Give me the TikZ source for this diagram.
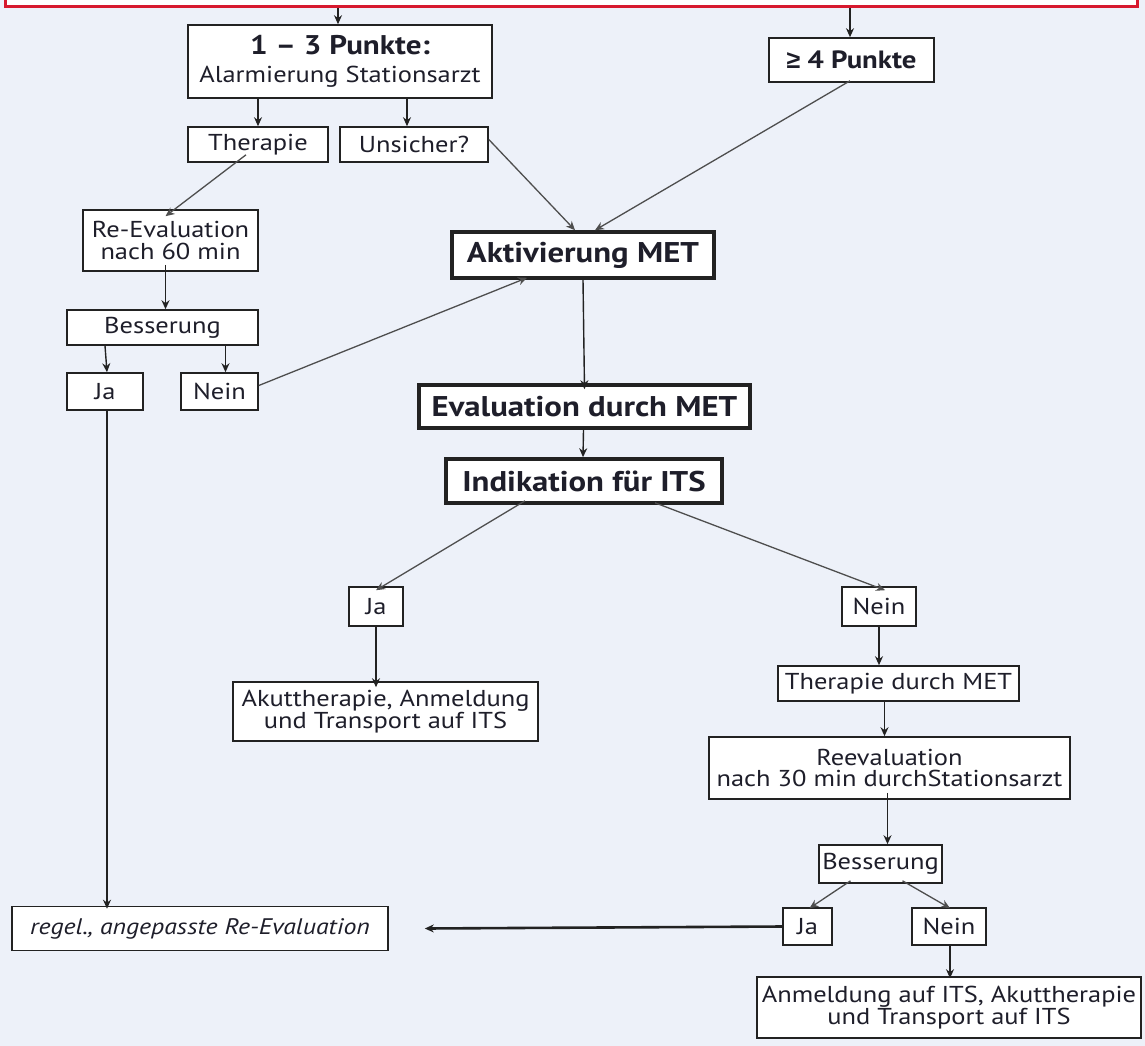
\documentclass[tikz,border=0pt]{standalone}
\usepackage{fontspec}
\setmainfont{PT Sans}[FakeStretch=1.15]
\newfontfamily\geqfont{Liberation Sans}[FakeStretch=1.0]
\usetikzlibrary{arrows.meta,calc}
\definecolor{bg}{HTML}{EDF1F9}
\definecolor{redb}{HTML}{D7192E}
\definecolor{txt}{HTML}{1E1E2A}
\definecolor{ln}{HTML}{222222}
\begin{document}
\begin{tikzpicture}[x=1pt,y=-1pt,
  box/.style={draw=ln,line width=1.6pt,fill=white,inner sep=0pt,align=center,text=txt,
    font=\fontsize{23}{21.5}\selectfont},
  bbox/.style={box,line width=3.6pt,font=\fontsize{28.5}{30}\selectfont\bfseries},
  arr/.style={draw=ln,line width=1.4pt,-{Stealth[length=9pt,width=8pt]}},
  darr/.style={arr,draw=ln!80,line width=1.3pt}]
\useasboundingbox (0,0) rectangle (1145,1046);
\fill[bg] (0,0) rectangle (1145,1046);
\node[draw=redb,line width=3pt,fill=white,minimum width=1132pt,minimum height=40pt,inner sep=0pt] (top) at (571,-13) {};
\node[box,minimum width=304pt,minimum height=73pt,font=\fontsize{23}{28}\selectfont] (p13) at (340,61.5)
  {{\fontsize{27}{28}\selectfont\bfseries 1 – 3 Punkte:}\\Alarmierung Stationsarzt};
\node[box,minimum width=165pt,minimum height=44pt,font=\fontsize{25}{27}\selectfont\bfseries] (p4) at (851.5,60) {{\geqfont\bfseries ≥} 4 Punkte};
\node[box,minimum width=140pt,minimum height=35pt] (ther) at (258,144.5) {Therapie};
\node[box,minimum width=148pt,minimum height=35pt] (uns) at (414,144.5) {Unsicher?};
\node[box,minimum width=175pt,minimum height=61pt] (reev60) at (170.5,240.5) {Re-Evaluation\\nach 60 min};
\node[box,minimum width=191pt,minimum height=35pt] (bess1) at (162.5,327.5) {Besserung};
\node[box,minimum width=76pt,minimum height=37pt] (ja1) at (105,391.5) {Ja};
\node[box,minimum width=77pt,minimum height=37pt] (nein1) at (219.5,391.5) {Nein};
\node[bbox,minimum width=262pt,minimum height=46pt] (akt) at (583,255) {Aktivierung MET};
\node[bbox,minimum width=331pt,minimum height=43pt] (eval) at (584.5,406.5) {Evaluation durch MET};
\node[bbox,minimum width=276pt,minimum height=44pt] (ind) at (584,481) {Indikation für ITS};
\node[box,minimum width=54pt,minimum height=39pt] (ja2) at (376,606.5) {Ja};
\node[box,minimum width=74pt,minimum height=39pt] (nein2) at (879,606.5) {Nein};
\node[box,minimum width=305pt,minimum height=59pt] (akut) at (385.5,711.5) {Akuttherapie, Anmeldung\\und Transport auf ITS};
\node[box,minimum width=241pt,minimum height=35pt] (thermet) at (898.5,683.5) {Therapie durch MET};
\node[box,minimum width=361pt,minimum height=62pt] (reev30) at (889.5,768) {Reevaluation\\nach 30 min durchStationsarzt};
\node[box,minimum width=123pt,minimum height=38pt] (bess2) at (880.5,864) {Besserung};
\node[box,minimum width=49pt,minimum height=37pt] (ja3) at (807.5,926.5) {Ja};
\node[box,minimum width=74pt,minimum height=37pt] (nein3) at (949,926.5) {Nein};
\node[box,minimum width=376pt,minimum height=44pt,font=\fontsize{22.5}{21.5}\selectfont\itshape] (regel) at (200,928.5) {regel., angepasste Re-Evaluation};
\node[box,minimum width=384pt,minimum height=61pt] (anm) at (949,1007.5) {Anmeldung auf ITS, Akuttherapie\\und Transport auf ITS};
% connectors
\draw[arr] ([xshift=-2pt]top.south -| p13.north) -- ([xshift=-2pt]p13.north);
\draw[arr] ([xshift=-1.5pt]top.south -| p4.north) -- ([xshift=-1.5pt]p4.north);
\draw[arr] (p13.south -| ther.north) -- (ther.north);
\draw[arr] ([xshift=-7pt]p13.south -| uns.north) -- ([xshift=-7pt]uns.north);
\draw[darr] ([shift={(-12pt,8pt)}]ther.south) -- ([shift={(-5pt,-7pt)}]reev60.north);
\draw[arr] ([shift={(-5pt,7pt)}]reev60.south) -- ([xshift=-5pt]reev60.south |- bess1.north);
\draw[arr] (bess1.south -| ja1.north) -- ([xshift=2pt]ja1.north);
\draw[arr] ([xshift=6pt]bess1.south -| nein1.north) -- ([xshift=6pt]nein1.north);
\draw[darr] ([yshift=6pt]nein1.east) -- ([xshift=-56pt,yshift=2pt]akt.south);
\draw[darr] ([yshift=5pt]uns.east) -- ([xshift=-8pt]akt.north);
\draw[darr] ([xshift=-1.5pt,yshift=2pt]p4.south) -- ([xshift=12pt]akt.north);
\draw[arr] (akt.south) -- ([yshift=-6pt]eval.north);
\draw[arr] ([xshift=-1pt]eval.south) -- ([xshift=-1pt]ind.north);
\draw[darr] ([xshift=-59pt,yshift=4pt]ind.south) -- ([yshift=-4pt]ja2.north);
\draw[darr] ([xshift=71pt,yshift=2pt]ind.south) -- ([xshift=6pt,yshift=-4pt]nein2.north);
\draw[arr] ([yshift=1pt]ja2.south) -- ([yshift=-6pt]ja2.south |- akut.north);
\draw[arr] (nein2.south) -- (nein2.south |- thermet.north);
\draw[arr] (thermet.south -| reev30.north) ++(-5pt,0) -- ([xshift=-5pt]reev30.north);
\draw[arr] ([shift={(-2pt,7pt)}]reev30.south) -- ([xshift=-2pt]reev30.south |- bess2.north);
\draw[darr] ([xshift=-30pt,yshift=3pt]bess2.south) -- ([xshift=2pt,yshift=-1pt]ja3.north);
\draw[darr] ([xshift=22pt,yshift=3pt]bess2.south) -- ([xshift=1pt,yshift=-1pt]nein3.north);
\draw[arr,line width=2.6pt] (ja3.west) -- ([xshift=36pt]regel.east);
\draw[arr] ([xshift=2pt]ja1.south) -- ([xshift=2pt,yshift=-3pt]ja1.south |- regel.north);
\draw[arr] ([xshift=1pt]nein3.south) -- ([xshift=1pt,yshift=-2pt]nein3.south |- anm.north);
\end{tikzpicture}
\end{document}
